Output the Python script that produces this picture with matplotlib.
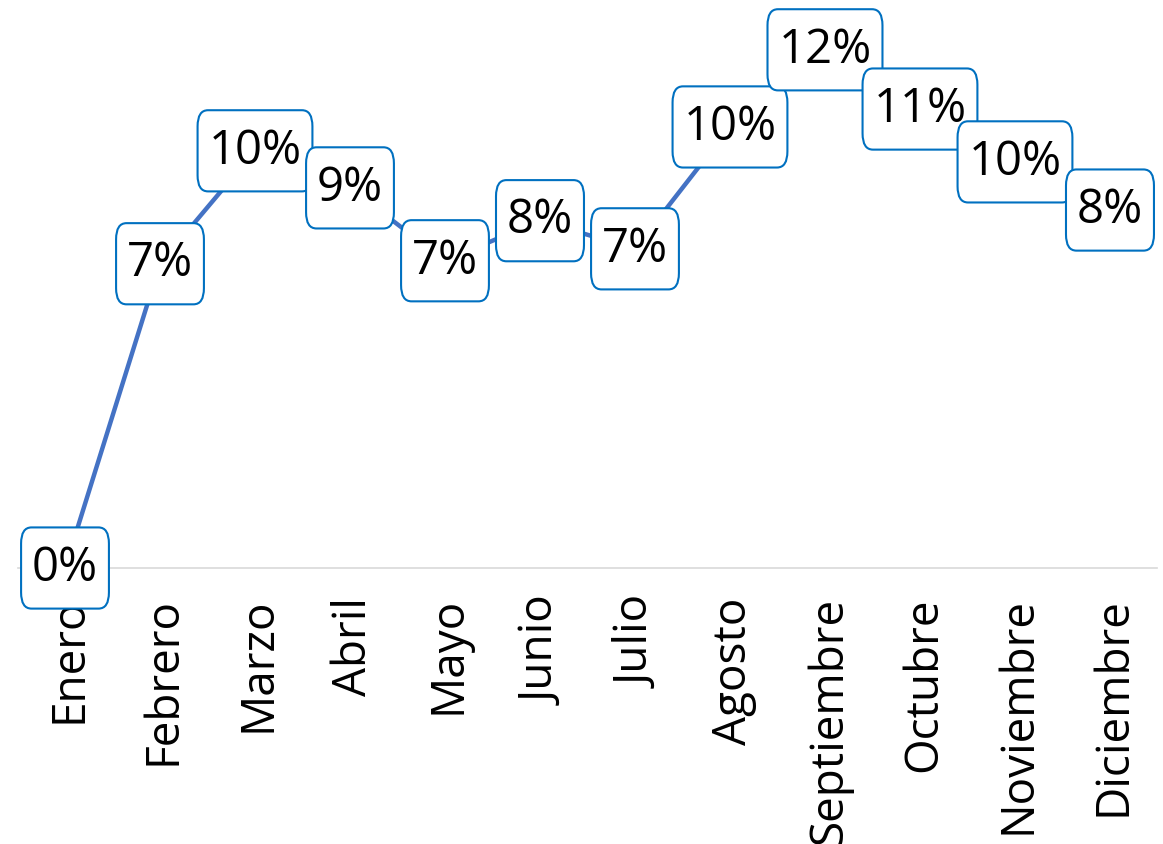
import matplotlib
matplotlib.use('Agg')
import matplotlib.pyplot as plt
import matplotlib.transforms as mtransforms

meses = ['Enero', 'Febrero', 'Marzo', 'Abril', 'Mayo', 'Junio', 'Julio',
         'Agosto', 'Septiembre', 'Octubre', 'Noviembre', 'Diciembre']
valores = [0.0, 0.0714, 0.0979, 0.0892, 0.0721, 0.0815, 0.0749,
           0.1035, 0.1216, 0.1077, 0.0953, 0.0840]

plt.rcParams['font.family'] = ['Open Sans', 'DejaVu Sans']

fig = plt.figure(figsize=(11.63, 8.44), dpi=100)
ax = fig.add_axes([0.01505, 0.327, 0.9802, 0.6564])

x = list(range(len(meses)))
ax.plot(x, valores, color='#4472C4', linewidth=3.2, solid_capstyle='round', zorder=2)

for xi, v in zip(x, valores):
    ax.text(xi, v, '{:.0%}'.format(v), ha='center', va='center', fontsize=34,
            color='black', zorder=4, clip_on=False,
            bbox=dict(boxstyle='round,pad=0.23,rounding_size=0.22',
                      mutation_aspect=1.55,
                      facecolor='white', edgecolor='#0070C0', linewidth=1.5))

ax.set_xlim(-0.5, 11.5)
ax.set_ylim(0, 0.13)
ax.set_yticks([])
ax.set_xticks(x)
ax.set_xticklabels(meses, rotation=90, fontsize=33)
ax.tick_params(axis='x', length=0, pad=21)
# nudge the month names a few pixels right, as in the original
shift = mtransforms.ScaledTranslation(4 / 100, 0, fig.dpi_scale_trans)
for lbl in ax.get_xticklabels():
    lbl.set_transform(lbl.get_transform() + shift)
for s in ['top', 'right', 'left']:
    ax.spines[s].set_visible(False)
ax.spines['bottom'].set_color('#d9d9d9')
ax.spines['bottom'].set_linewidth(1.2)
ax.spines['bottom'].set_zorder(1)

fig.savefig('out.png', dpi=100)
